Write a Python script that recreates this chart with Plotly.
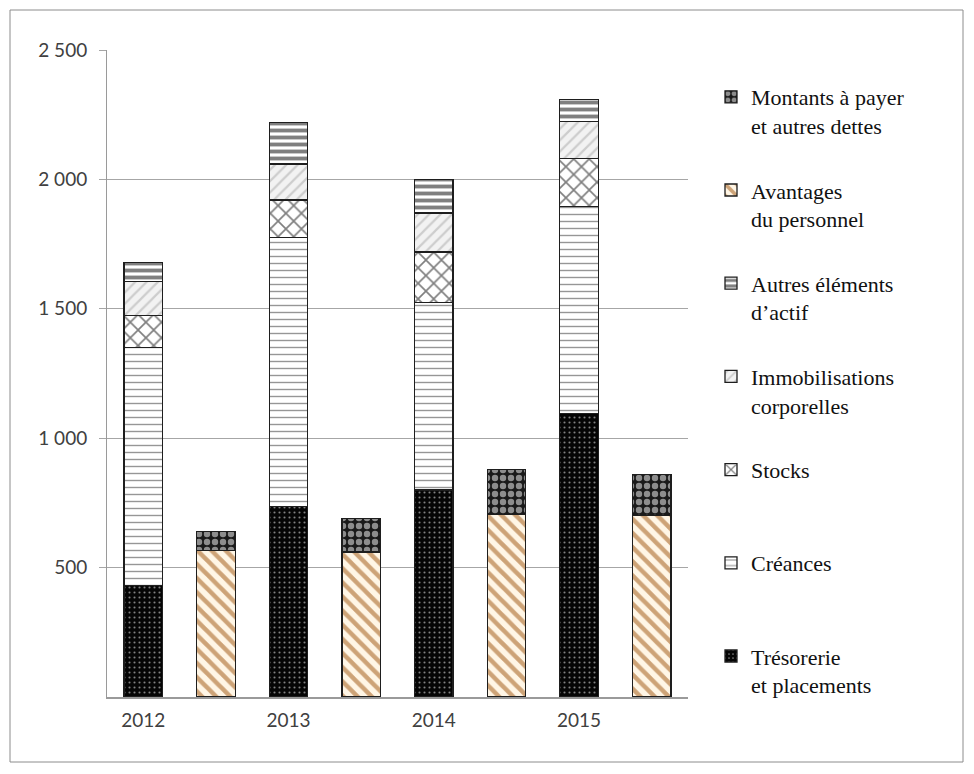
import plotly.graph_objects as go

# Bilan simplifié : actif (barre de gauche) et passif (barre de droite) pour chaque exercice
annees = ["2012", "2013", "2014", "2015"]

# Actif
tresorerie = [430, 735, 800, 1095]
creances = [920, 1040, 725, 800]
stocks = [125, 145, 195, 185]
immobilisations = [130, 140, 150, 145]
autres_actifs = [75, 160, 130, 85]

# Passif
avantages_personnel = [565, 560, 705, 700]
montants_a_payer = [75, 130, 175, 160]

y_ticks = [500, 1000, 1500, 2000, 2500]
y_tick_labels = ["500", "1 000", "1 500", "2 000", "2 500"]

# Une position pour l'actif puis une pour le passif, par année
x_actif = [2 * i for i in range(len(annees))]
x_passif = [2 * i + 1 for i in range(len(annees))]

OUTLINE = dict(color="#1e1e1e", width=1.3)

series = [
    ("Trésorerie<br>et placements", x_actif, tresorerie,
     dict(shape=".", bgcolor="#050505", fgcolor="#ffffff", size=5, solidity=0.14)),
    ("Créances<br> ", x_actif, creances,
     dict(shape="-", bgcolor="#ffffff", fgcolor="#2e2e2e", size=7, solidity=0.2)),
    ("Stocks<br> ", x_actif, stocks,
     dict(shape="x", bgcolor="#ffffff", fgcolor="#000000", size=11, solidity=0.28)),
    ("Immobilisations<br>corporelles", x_actif, immobilisations,
     dict(shape="/", bgcolor="#f2f2f2", fgcolor="#a8a8a8", size=8, solidity=0.28)),
    ("Autres éléments<br>d’actif", x_actif, autres_actifs,
     dict(shape="-", bgcolor="#ffffff", fgcolor="#000000", size=7, solidity=0.55)),
    ("Avantages<br>du personnel", x_passif, avantages_personnel,
     dict(shape="\\", bgcolor="#fff6e6", fgcolor="#9c4f08", size=10, solidity=0.45)),
    ("Montants à payer<br>et autres dettes", x_passif, montants_a_payer,
     dict(shape=".", bgcolor="#1a1a1a", fgcolor="#ffffff", size=8, solidity=0.5)),
]

fig = go.Figure()
for i, (nom, xs, ys, motif) in enumerate(series):
    fig.add_trace(go.Bar(
        name=nom,
        x=xs,
        y=ys,
        legendgroup=f"g{i}",
        legendrank=1000 - 10 * i,
        marker=dict(color=motif["bgcolor"], line=OUTLINE, pattern=motif),
        hovertemplate="%{y}<extra></extra>",
    ))

# Cadre extérieur du graphique
L, R, T, B = 107, 286, 50, 77
W, H = 974, 774
pw, ph = W - L - R, H - T - B
fig.add_shape(
    type="rect", xref="paper", yref="paper",
    x0=(10 - L) / pw, x1=(963 - L) / pw,
    y0=(H - B - 762) / ph, y1=(H - B - 10) / ph,
    line=dict(color="#8c8c8c", width=1), fillcolor="rgba(0,0,0,0)", layer="below",
)

fig.update_layout(
    width=W, height=H,
    margin=dict(l=L, r=R, t=T, b=B, pad=0),
    paper_bgcolor="#ffffff",
    plot_bgcolor="#ffffff",
    barmode="stack",
    bargap=0.47,
    font=dict(family="Lato, Open Sans, sans-serif", size=19, color="#404040"),
    xaxis=dict(
        range=[-0.5, 2 * len(annees) - 0.5],
        tickvals=x_actif,
        ticktext=annees,
        showgrid=False,
        showline=True, linecolor="#9a9a9a", linewidth=1.5,
        ticks="", ticklabelstandoff=5,
        zeroline=False,
        fixedrange=True,
    ),
    yaxis=dict(
        range=[0, 2500],
        tickvals=y_ticks,
        ticktext=y_tick_labels,
        showgrid=True, gridcolor="#a6a6a6", gridwidth=1,
        showline=True, linecolor="#9a9a9a", linewidth=1,
        ticks="outside", ticklen=7, tickcolor="#a6a6a6",
        ticklabelstandoff=8,
        zeroline=False,
        fixedrange=True,
    ),
    legend=dict(
        traceorder="grouped",
        x=(711 - L) / pw, xanchor="left",
        y=(H - B - 76) / ph, yanchor="top",
        valign="top",
        tracegroupgap=33,
        maxheight=1,
        font=dict(family="Liberation Serif, Times New Roman, serif", size=22, color="#111111"),
        bgcolor="rgba(0,0,0,0)",
    ),
    showlegend=True,
)

fig.write_html("out.html")
